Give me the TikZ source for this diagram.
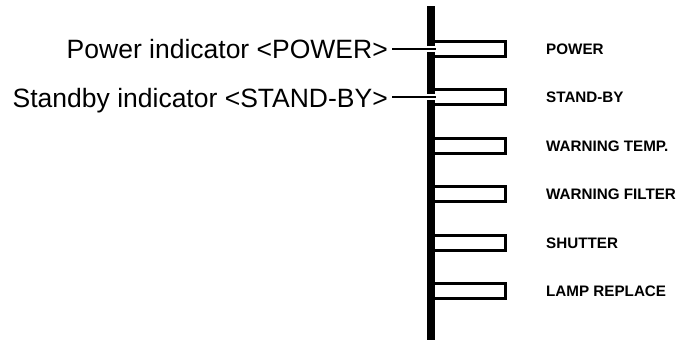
\documentclass[tikz,border=0pt]{standalone}
\usepackage{fontspec}
\usetikzlibrary{positioning}
\newfontfamily\arialfont{Liberation Sans}

\tikzset{
  ledbox/.style={draw, line width=3pt, minimum width=74.5pt, minimum height=15pt, inner sep=0pt, outer sep=0pt, anchor=west},
  ledname/.style={font=\arialfont\bfseries\fontsize{15.2}{18}\selectfont, inner sep=0pt, anchor=base west},
  callout/.style={font=\arialfont\fontsize{26.5}{30}\selectfont, inner xsep=4pt, inner ysep=0pt, anchor=base east},
  leader/.style={line width=2pt},
  halo/.style={white, line width=6pt}
}

\begin{document}
\begin{tikzpicture}[x=1pt, y=-1pt]
  \useasboundingbox (0,0) rectangle (679,340);

  % Leiste
  \fill (427,6) rectangle (435,340);

  % Anzeigen
  \foreach \name/\txt [count=\i from 0] in {power/POWER, standby/STAND-BY, temp/WARNING TEMP., filter/WARNING FILTER, shutter/SHUTTER, lamp/LAMP REPLACE} {
    \node[ledbox] (\name) at (431, 49+48.4*\i) {};
    \node[ledname] (\name-lbl) at (546, 54.5+48.4*\i) {\txt};
  }

  % Beschriftung links
  \node[callout] (powertxt) at (392, 58) {Power indicator <POWER>};
  \node[callout] (standbytxt) at (392, 107) {Standby indicator <STAND-BY>};

  \draw[halo] ([xshift=-6pt]power.west) -- ([xshift=5pt]power.west);
  \draw[halo] ([xshift=-6pt]standby.west) -- ([xshift=5pt]standby.west);
  \draw[leader] (power.west -| powertxt.east) -- ([xshift=5pt]power.west);
  \draw[leader] (standby.west -| standbytxt.east) -- ([xshift=5pt]standby.west);
\end{tikzpicture}
\end{document}
